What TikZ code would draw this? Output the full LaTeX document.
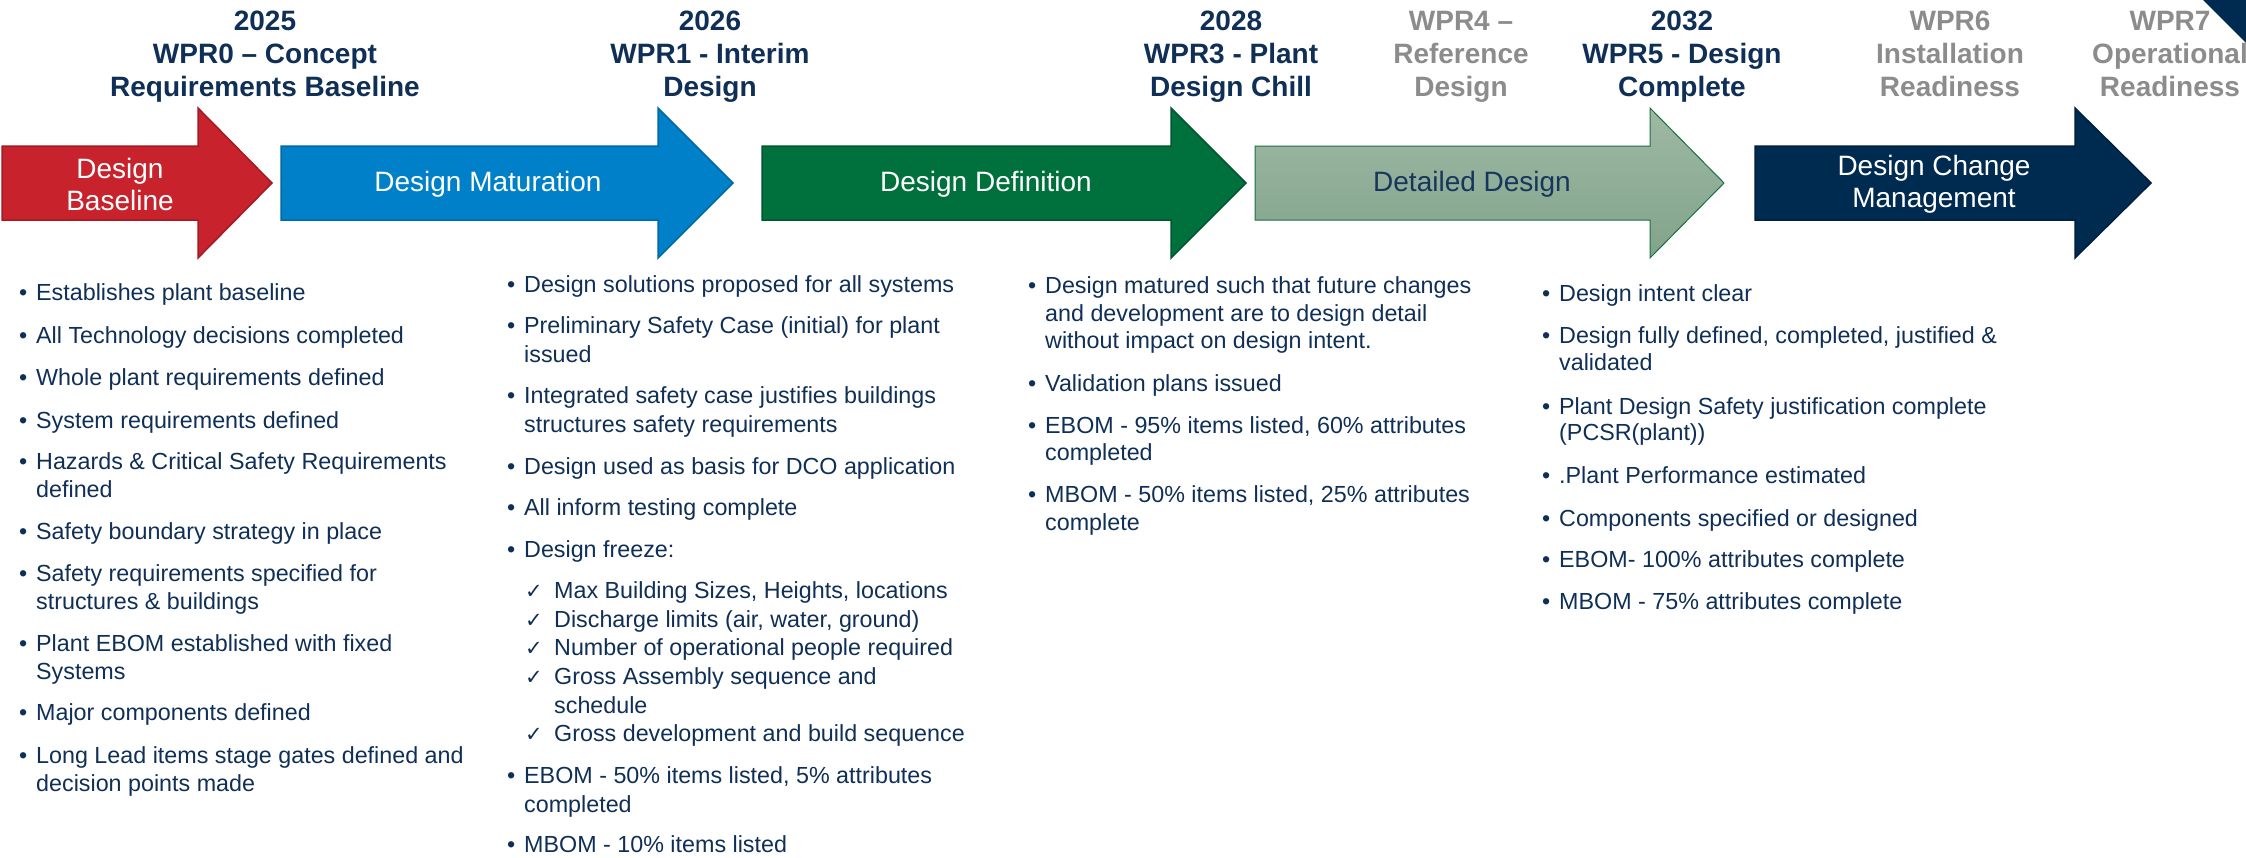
\documentclass[tikz,border=0pt]{standalone}
\usepackage{fontspec}
\setmainfont{Liberation Sans}
\newfontfamily\djv{DejaVu Sans}
\definecolor{txtnavy}{HTML}{0F2F56}
\definecolor{hdgrey}{HTML}{8C8C8C}
\definecolor{redf}{HTML}{C8232C}
\definecolor{redd}{HTML}{A21B23}
\definecolor{bluef}{HTML}{0080C8}
\definecolor{blued}{HTML}{0069A6}
\definecolor{greenf}{HTML}{00703C}
\definecolor{greend}{HTML}{00582F}
\definecolor{lgtop}{HTML}{9EB9A4}
\definecolor{lgbot}{HTML}{82A38B}
\definecolor{lgd}{HTML}{1A7040}
\definecolor{navyf}{HTML}{002B51}
\definecolor{navyd}{HTML}{001F3D}
\definecolor{ddlabel}{HTML}{17365D}
\newcommand\phasearrow[4]{%
  \path[#1] (#2,146) -- (#3,146) -- (#3,108) -- (#4,183) -- (#3,258) -- (#3,220) -- (#2,220) -- cycle;}
\newcommand\hlines[1]{\begin{tabular}[t]{@{}c@{}}#1\end{tabular}}
\newcommand\bitem[5]{%
  \node[itm] (#1) at (#2,#3) {\fontsize{23.3}{#4}\selectfont\makebox[17pt][l]{•}\begin{tabular}[t]{@{}l@{}}#5\end{tabular}};}
\newcommand\citem[3]{%
  \node[itm] (#1) at (525,#2) {\fontsize{23.3}{28.6}\selectfont\makebox[29pt][l]{\djv\fontsize{21}{24}\selectfont ✓}\begin{tabular}[t]{@{}l@{}}#3\end{tabular}};}
\begin{document}
\begin{tikzpicture}[x=1pt,y=-1pt,
  hd/.style={anchor=base, inner sep=0pt, font=\bfseries\fontsize{28}{33.3}\selectfont},
  lbl/.style={anchor=center, inner sep=0pt, align=center, font=\fontsize{28}{32}\selectfont},
  itm/.style={anchor=base west, inner sep=0pt, text=txtnavy}]
\useasboundingbox (0,0) rectangle (2246,857);

% phase arrows
\phasearrow{fill=redf, draw=redd, line width=1.5pt}{2}{198}{272}
\phasearrow{fill=bluef, draw=blued, line width=1.5pt}{281}{658}{733}
\phasearrow{fill=greenf, draw=greend, line width=1.5pt}{762}{1171}{1246}
\phasearrow{top color=lgtop, bottom color=lgbot, draw=lgd, line width=1pt}{1255}{1650}{1724}
\phasearrow{fill=navyf, draw=navyd, line width=1.5pt}{1755}{2075}{2151}
\fill[navyf] (2203,0) -- (2246,0) -- (2246,43) -- cycle;

% arrow labels
\node[lbl, text=white] (l1) at (120,184) {Design\\Baseline};
\node[lbl, text=white] (l2) at (488,184) {Design Maturation};
\node[lbl, text=white] (l3) at (986,184) {Design Definition};
\node[lbl, text=ddlabel] (l4) at (1472,184) {Detailed Design};
\node[lbl, text=white] (l5) at (1934,184) {Design Change\\Management};

% headings
\node[hd, text=txtnavy] (h1) at (265,30) {\hlines{2025\\WPR0 – Concept\\Requirements Baseline}};
\node[hd, text=txtnavy] (h2) at (710,30) {\hlines{2026\\WPR1 - Interim\\Design}};
\node[hd, text=txtnavy] (h3) at (1231,30) {\hlines{2028\\WPR3 - Plant\\Design Chill}};
\node[hd, text=hdgrey] (h4) at (1461,30) {\hlines{WPR4 –\\Reference\\Design}};
\node[hd, text=txtnavy] (h5) at (1682,30) {\hlines{2032\\WPR5 - Design\\Complete}};
\node[hd, text=hdgrey] (h6) at (1950,30) {\hlines{WPR6\\Installation\\Readiness}};
\node[hd, text=hdgrey] (h7) at (2170,30) {\hlines{WPR7\\Operational\\Readiness}};

% column 1
\bitem{a1}{19}{300.7}{27.9}{Establishes plant baseline}
\bitem{a2}{19}{343.7}{27.9}{All Technology decisions completed}
\bitem{a3}{19}{385.2}{27.9}{Whole plant requirements defined}
\bitem{a4}{19}{428.2}{27.9}{System requirements defined}
\bitem{a5}{19}{469.7}{27.9}{Hazards \& Critical Safety Requirements\\defined}
\bitem{a6}{19}{539.9}{27.9}{Safety boundary strategy in place}
\bitem{a7}{19}{581.5}{27.9}{Safety requirements specified for\\structures \& buildings}
\bitem{a8}{19}{651.7}{27.9}{Plant EBOM established with fixed\\Systems}
\bitem{a9}{19}{720.4}{27.9}{Major components defined}
\bitem{a10}{19}{763.4}{27.9}{Long Lead items stage gates defined and\\decision points made}

% column 2
\bitem{b1}{507}{292.1}{28.6}{Design solutions proposed for all systems}
\bitem{b2}{507}{333.7}{28.6}{Preliminary Safety Case (initial) for plant\\issued}
\bitem{b3}{507}{403.8}{28.6}{Integrated safety case justifies buildings\\structures safety requirements}
\bitem{b4}{507}{474}{28.6}{Design used as basis for DCO application}
\bitem{b5}{507}{515.6}{28.6}{All inform testing complete}
\bitem{b6}{507}{557.1}{28.6}{Design freeze:}
\citem{k1}{598.7}{Max Building Sizes, Heights, locations}
\citem{k2}{627.3}{Discharge limits (air, water, ground)}
\citem{k3}{655.9}{Number of operational people required}
\citem{k4}{684.6}{Gross Assembly sequence and\\schedule}
\citem{k5}{741.5}{Gross development and build sequence}
\bitem{b7}{507}{783.4}{28.6}{EBOM - 50\% items listed, 5\% attributes\\completed}
\bitem{b8}{507}{852}{28.6}{MBOM - 10\% items listed}

% column 3
\bitem{c1}{1028}{293.5}{27.5}{Design matured such that future changes\\and development are to design detail\\without impact on design intent.}
\bitem{c2}{1028}{391}{27.5}{Validation plans issued}
\bitem{c3}{1028}{433}{27.5}{EBOM - 95\% items listed, 60\% attributes\\completed}
\bitem{c4}{1028}{502.5}{27.5}{MBOM - 50\% items listed, 25\% attributes\\complete}

% column 4
\bitem{d1}{1542}{301}{26.7}{Design intent clear}
\bitem{d2}{1542}{343.5}{26.7}{Design fully defined, completed, justified \&\\validated}
\bitem{d3}{1542}{414}{26.7}{Plant Design Safety justification complete\\(PCSR(plant))}
\bitem{d4}{1542}{483.5}{26.7}{.Plant Performance estimated}
\bitem{d5}{1542}{526}{26.7}{Components specified or designed}
\bitem{d6}{1542}{567.5}{26.7}{EBOM- 100\% attributes complete}
\bitem{d7}{1542}{609}{26.7}{MBOM - 75\% attributes complete}
\end{tikzpicture}
\end{document}
